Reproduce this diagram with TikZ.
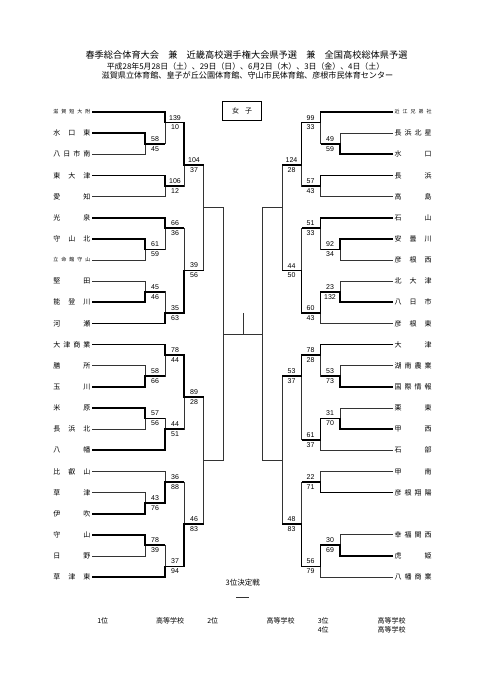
\documentclass[tikz,border=0pt]{standalone}
\usepackage{fontspec}
\setmainfont{Liberation Sans}
\newfontfamily\jp{Noto Sans CJK JP}
\tikzset{
  bline/.style={black!80, line width=0.8pt},
  win/.style={black, line width=1.8pt},
  team/.style={font=\jp, inner xsep=1.5pt, inner ysep=0pt},
  sc/.style={font=\fontsize{7}{7}\selectfont, inner sep=2.3pt},
  note/.style={font=\jp\fontsize{7}{7}\selectfont, inner sep=0pt}
}
% spread the characters of a name over the name column
\def\spr#1{\makebox[37pt][s]{\sprA#1\relax}}
\def\sprA#1#2{#1\ifx\relax#2\else\hfill\expandafter\sprA\fi#2}

\begin{document}
\begin{tikzpicture}[x=1pt, y=-10.57pt]
  \useasboundingbox (0,-10.596) rectangle (481,53.737);

  \node[note, font=\jp\fontsize{9.2}{9.2}\selectfont] (title) at (246.5,-5.39)
    {春季総合体育大会　兼　近畿高校選手権大会県予選　兼　全国高校総体県予選};
  \node[note, font=\jp\fontsize{7.9}{7.9}\selectfont] (dates) at (245.5,-4.35)
    {平成28年5月28日（土）、29日（日）、6月2日（木）、3日（金）、4日（土）};
  \node[note, font=\jp\fontsize{8.1}{8.1}\selectfont] (halls) at (247.5,-3.43)
    {滋賀県立体育館、皇子が丘公園体育館、守山市民体育館、彦根市民体育センター};
  \node[draw, line width=0.8pt, minimum width=39pt, minimum height=18.3pt, note] (girls) at (242.2,-0.11)
    {女\hspace{6pt}子};

  % left teams
  \foreach \n/\k/\s/\t in {l0/0/5/滋賀短大附, l1/2/7/水口東, l2/4/7/八日市南, l3/6/7/東大津,
      l4/8/7/愛知, l5/10/7/光泉, l6/12/7/守山北, l7/14/5/立命館守山, l8/16/7/堅田,
      l9/18/7/能登川, l10/20/7/河瀬, l11/22/7/大津商業, l12/24/7/膳所, l13/26/7/玉川,
      l14/28/7/米原, l15/30/7/長浜北, l16/32/7/八幡, l17/34/7/比叡山, l18/36/7/草津,
      l19/38/7/伊吹, l20/40/7/守山, l21/42/7/日野, l22/44/7/草津東}
    \node[team, anchor=east] (\n) at (92,\k)
      {\fontsize{\s}{\s}\selectfont\expandafter\spr\expandafter{\t}};
  % right teams
  \foreach \n/\k/\s/\t in {r0/0/5/近江兄弟社, r1/2/7/長浜北星, r2/4/7/水口, r3/6/7/長浜,
      r4/8/7/高島, r5/10/7/石山, r6/12/7/安曇川, r7/14/7/彦根西, r8/16/7/北大津,
      r9/18/7/八日市, r10/20/7/彦根東, r11/22/7/大津, r12/24/7/湖南農業, r13/26/7/国際情報,
      r14/28/7/栗東, r15/30/7/甲西, r16/32/7/石部, r17/34/7/甲南, r18/36/7/彦根翔陽,
      r19/40/7/幸福関西, r20/42/7/虎姫, r21/44/7/八幡商業}
    \node[team, anchor=west] (\n) at (393,\k)
      {\fontsize{\s}{\s}\selectfont\expandafter\spr\expandafter{\t}};

  % match points
  \foreach \m/\x/\k in {la1/145/3, la2/165/1, la3/165/7, la4/184/5, lb1/145/13, lb2/165/11,
      lb3/145/17, lb4/165/19, lb5/184/15, ls1/203.5/9, lc1/145/25, lc2/165/23, lc3/145/29,
      lc4/165/30, lc5/184/27, ld1/145/37, ld2/165/35, ld3/145/41, ld4/165/43, ld5/184/39,
      ls2/203.5/33, lf/223/21,
      ra1/340/3, ra2/320.5/1, ra3/320.5/7, ra4/301.5/5, rb1/340/13, rb2/320.5/11,
      rb3/340/17, rb4/320.5/19, rb5/301.5/15, rs1/282/9, rc1/340/25, rc2/320.5/23,
      rc3/340/29, rc4/320.5/31, rc5/301.5/25, rd1/320.5/35, rd2/340/41, rd3/320.5/43,
      rd4/301.5/39, rs2/282/33, rf/262/21}
    \coordinate (\m) at (\x,\k);
  \coordinate (top) at (243,19);

  % bracket
  \foreach \c/\m in {l1/la1, l2/la1, l0/la2, la1/la2, l3/la3, l4/la3, la2/la4, la3/la4,
      l6/lb1, l7/lb1, l5/lb2, lb1/lb2, l8/lb3, l9/lb3, lb3/lb4, l10/lb4, lb2/lb5, lb4/lb5,
      la4/ls1, lb5/ls1, l12/lc1, l13/lc1, l11/lc2, lc1/lc2, l14/lc3, l15/lc3, lc3/lc4,
      l16/lc4, lc2/lc5, lc4/lc5, l18/ld1, l19/ld1, l17/ld2, ld1/ld2, l20/ld3, l21/ld3,
      ld3/ld4, l22/ld4, ld2/ld5, ld4/ld5, lc5/ls2, ld5/ls2, ls1/lf, ls2/lf,
      r1/ra1, r2/ra1, r0/ra2, ra1/ra2, r3/ra3, r4/ra3, ra2/ra4, ra3/ra4,
      r6/rb1, r7/rb1, r5/rb2, rb1/rb2, r8/rb3, r9/rb3, rb3/rb4, r10/rb4, rb2/rb5, rb4/rb5,
      ra4/rs1, rb5/rs1, r12/rc1, r13/rc1, r11/rc2, rc1/rc2, r14/rc3, r15/rc3, rc3/rc4,
      r16/rc4, rc2/rc5, rc4/rc5, r17/rd1, r18/rd1, r19/rd2, r20/rd2, rd2/rd3, r21/rd3,
      rd1/rd4, rd3/rd4, rc5/rs2, rd4/rs2, rs1/rf, rs2/rf}
    \draw[bline] (\c) -| (\m);
  \draw[bline] (lf) -- (rf);
  \draw[bline] (top) -- (top |- lf);

  % winners
  \foreach \w/\m/\n in {l1/la1/la2, l0/la2/la4, l3/la3/la4, la2/la4/ls1, l6/lb1/lb2,
      l5/lb2/lb5, l9/lb3/lb4, l10/lb4/lb5, lb4/lb5/ls1, l13/lc1/lc2, l11/lc2/lc5,
      l14/lc3/lc4, l16/lc4/lc5, lc2/lc5/ls2, l19/ld1/ld2, ld1/ld2/ld5, l20/ld3/ld4,
      l22/ld4/ld5, ld4/ld5/ls2,
      r2/ra1/ra2, r0/ra2/ra4, r3/ra3/ra4, ra2/ra4/rs1, r6/rb1/rb2, r5/rb2/rb5,
      r9/rb3/rb4, rb3/rb4/rb5, rb4/rb5/rs1, r13/rc1/rc2, r11/rc2/rc5, r15/rc3/rc4,
      rc3/rc4/rc5, rc2/rc5/rs2, r18/rd1/rd4, r20/rd2/rd3, rd2/rd3/rd4, rd3/rd4/rs2}
    \draw[win] (\w) -| (\m) -- (\m -| \n);

  % scores
  \foreach \m/\a/\b in {la1/58/45, la2/139/10, la3/106/12, la4/104/37, lb1/61/59,
      lb2/66/36, lb3/45/46, lb4/35/63, lb5/39/56, lc1/58/66, lc2/78/44, lc3/57/56,
      lc4/44/51, lc5/89/28, ld1/43/76, ld2/36/88, ld3/78/39, ld4/37/94, ld5/46/83} {
    \node[sc, anchor=south] (\m-a) at ([xshift=10pt]\m) {\a};
    \node[sc, anchor=north] (\m-b) at ([xshift=10pt]\m) {\b};
  }
  \foreach \m/\a/\b in {ra1/49/59, ra2/99/33, ra3/57/43, ra4/124/28, rb1/92/34,
      rb2/51/33, rb3/23/132, rb4/60/43, rb5/44/50, rc1/53/73, rc2/78/28, rc3/31/70,
      rc4/61/37, rc5/53/37, rd1/22/71, rd2/30/69, rd3/56/79, rd4/48/83} {
    \node[sc, anchor=south] (\m-a) at ([xshift=-10pt]\m) {\a};
    \node[sc, anchor=north] (\m-b) at ([xshift=-10pt]\m) {\b};
  }

  \node[note, font=\jp\fontsize{7.5}{7.5}\selectfont] (third) at (242.7,44.53) {3位決定戦};
  \draw[bline] (236,45.91) -- (249.3,45.91);

  \node[note] (p1) at (102.7,48.15) {1位};
  \node[note] (s1) at (170,48.15) {高等学校};
  \node[note] (p2) at (212.7,48.15) {2位};
  \node[note] (s2) at (280.7,48.15) {高等学校};
  \node[note] (p3) at (323.3,48.15) {3位};
  \node[note] (s3) at (391.7,48.15) {高等学校};
  \node[note] (p4) at (323.3,49.0) {4位};
  \node[note] (s4) at (391.7,49.0) {高等学校};
\end{tikzpicture}
\end{document}
